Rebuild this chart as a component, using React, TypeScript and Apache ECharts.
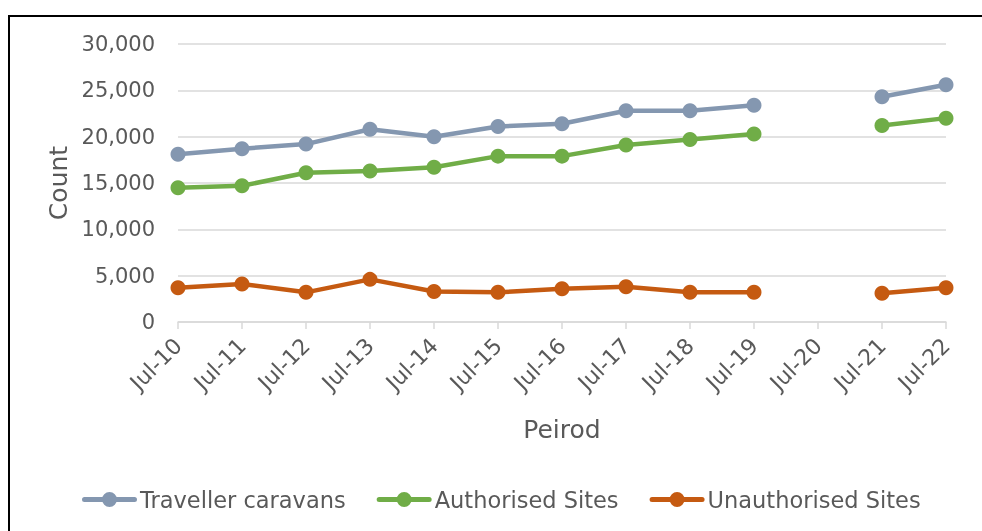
import React, { useEffect, useRef } from "react";
import * as echarts from "echarts";

const categories = ["Jul-10", "Jul-11", "Jul-12", "Jul-13", "Jul-14", "Jul-15", "Jul-16", "Jul-17", "Jul-18", "Jul-19", "Jul-20", "Jul-21", "Jul-22"];
const travellerCaravans = [18100, 18700, 19200, 20800, 20000, 21100, 21400, 22800, 22800, 23400, null, 24300, 25600];
const authorisedSites = [14500, 14700, 16100, 16300, 16700, 17900, 17900, 19100, 19700, 20300, null, 21200, 22000];
const unauthorisedSites = [3700, 4100, 3200, 4600, 3300, 3200, 3600, 3800, 3200, 3200, null, 3100, 3700];
const seriesNames = ["Traveller caravans", "Authorised Sites", "Unauthorised Sites"];
const seriesColors = ["#8497B0", "#70AD47", "#C55A11"];

const FONT = "DejaVu Sans";
const TEXT = "#595959";
const LEGEND_ICON =
  "path://M2.5,5 L52.5,5 A2.5,2.5 0 0 1 52.5,10 L2.5,10 A2.5,2.5 0 0 1 2.5,5 Z M20,7.5 A7.5,7.5 0 1 1 35,7.5 A7.5,7.5 0 1 1 20,7.5 Z";

export default function App() {
  const ref = useRef<HTMLDivElement>(null);
  useEffect(() => {
    if (!ref.current) return;
    const chart = echarts.init(ref.current, null, { renderer: "svg" });
    const data = [travellerCaravans, authorisedSites, unauthorisedSites];
    chart.setOption({
      animation: false,
      textStyle: { fontFamily: FONT },
      grid: { left: 178, right: 36, top: 44, bottom: 209, containLabel: false },
      legend: {
        top: 483,
        left: 77,
        itemWidth: 55,
        itemHeight: 15,
        itemGap: 31,
        textStyle: { color: TEXT, fontSize: 22.5, fontFamily: FONT, padding: [0, 0, 0, -2] },
        data: seriesNames.map((n) => ({ name: n, icon: LEGEND_ICON })),
      },
      xAxis: {
        type: "category",
        data: categories,
        boundaryGap: false,
        name: "Peirod",
        nameLocation: "middle",
        nameGap: 95,
        nameTextStyle: { color: TEXT, fontSize: 25, fontFamily: FONT },
        axisLine: { lineStyle: { color: "#D9D9D9", width: 1.5 } },
        axisTick: { show: true, length: 7, alignWithLabel: true, lineStyle: { color: "#D9D9D9", width: 1.5 } },
        axisLabel: { color: TEXT, fontSize: 22, rotate: 45, margin: 20, fontFamily: FONT, interval: 0 },
        splitLine: { show: false },
      },
      yAxis: {
        type: "value",
        min: 0,
        max: 30000,
        interval: 5000,
        name: "Count",
        nameLocation: "middle",
        nameGap: 106,
        nameTextStyle: { color: TEXT, fontSize: 25, fontFamily: FONT },
        axisLine: { show: false },
        axisTick: { show: false },
        axisLabel: {
          color: TEXT,
          fontSize: 21,
          margin: 23,
          fontFamily: FONT,
          formatter: (v: number) => v.toLocaleString("en-US"),
        },
        splitLine: { lineStyle: { color: "#D9D9D9", width: 1.5 } },
      },
      series: seriesNames.map((name, i) => ({
        name,
        type: "line",
        data: data[i],
        connectNulls: false,
        symbol: "circle",
        symbolSize: 15,
        lineStyle: { color: seriesColors[i], width: 4.5 },
        itemStyle: { color: seriesColors[i] },
        z: 3 - i,
      })),
    });
    return () => chart.dispose();
  }, []);
  return (
    <>
      <div
        style={{
          position: "fixed",
          left: 8,
          top: 15,
          width: 1100,
          height: 700,
          border: "2px solid #000",
          boxSizing: "border-box",
        }}
      />
      <div ref={ref} style={{ position: "fixed", left: 0, top: 0, width: 982, height: 531 }} />
    </>
  );
}
